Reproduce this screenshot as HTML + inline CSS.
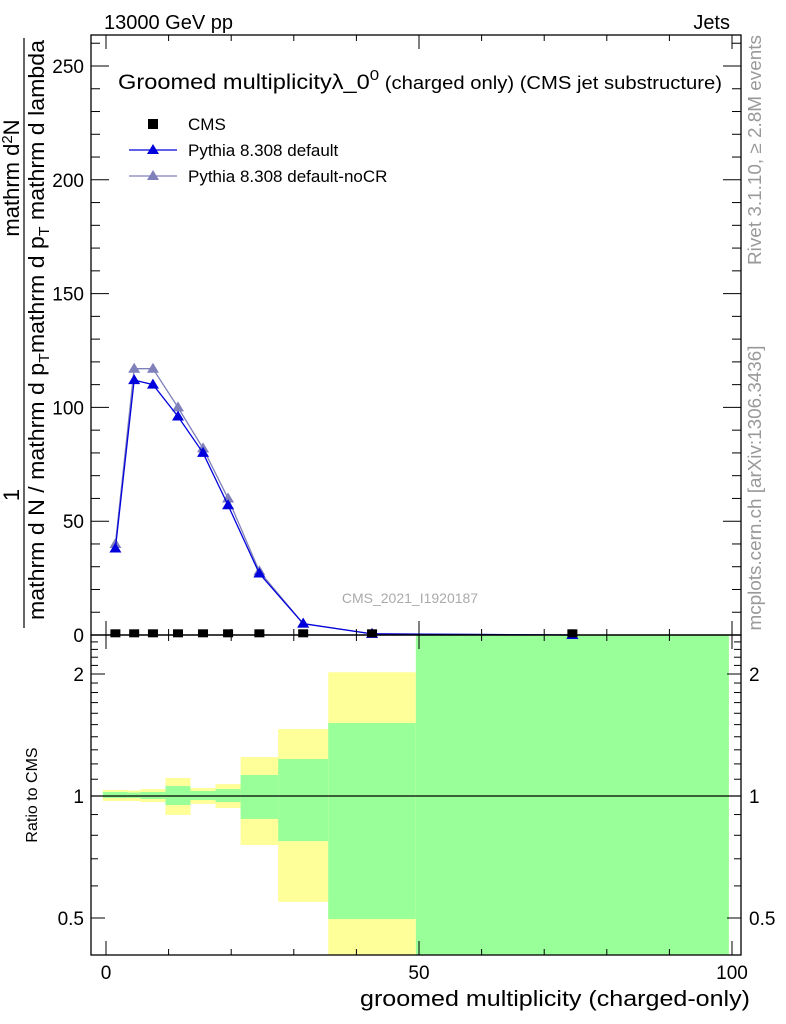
<!DOCTYPE html>
<html><head><meta charset="utf-8"><style>
body{margin:0;background:#fff}
svg{display:block;font-family:"Liberation Sans",sans-serif}
</style></head><body>
<svg id="c" width="786" height="1024" viewBox="0 0 786 1024" xmlns="http://www.w3.org/2000/svg">
<text x="104" y="29" font-size="20">13000 GeV pp</text>
<text x="730" y="29" font-size="20" text-anchor="end">Jets</text>
<text x="118" y="89" font-size="21" textLength="604" lengthAdjust="spacingAndGlyphs">Groomed multiplicityλ_0<tspan dy="-9" font-size="15">0</tspan><tspan dy="9" font-size="18"> (charged only) (CMS jet substructure)</tspan></text>
<text x="410" y="603" font-size="14" fill="#aaa" text-anchor="middle">CMS_2021_I1920187</text>
<g>
<rect x="148" y="119" width="10" height="10" fill="#000"/>
<text x="188" y="130" font-size="17">CMS</text>
<line x1="129" y1="150" x2="177" y2="150" stroke="#0000dd" stroke-width="1.3"/>
<polygon points="153,144 147,154 159,154" fill="#0000dd"/>
<text x="188" y="156" font-size="17">Pythia 8.308 default</text>
<line x1="129" y1="176" x2="177" y2="176" stroke="#8080bb" stroke-width="1.3"/>
<polygon points="153,170 147,180 159,180" fill="#8080bb"/>
<text x="188" y="182" font-size="17">Pythia 8.308 default-noCR</text>
</g>
<text transform="translate(761,150) rotate(-90)" font-size="18" fill="#999" text-anchor="middle" textLength="230" lengthAdjust="spacingAndGlyphs">Rivet 3.1.10, ≥ 2.8M events</text>
<text transform="translate(761,488) rotate(-90)" font-size="18" fill="#999" text-anchor="middle" textLength="285" lengthAdjust="spacingAndGlyphs">mcplots.cern.ch [arXiv:1306.3436]</text>
<g font-size="22">
<text transform="translate(19,495) rotate(-90)" text-anchor="middle">1</text>
<line x1="24" y1="628" x2="24" y2="38" stroke="#000" stroke-width="1.2"/>
<text transform="translate(44,330) rotate(-90)" text-anchor="middle" textLength="580" lengthAdjust="spacingAndGlyphs">mathrm d N / mathrm d p<tspan font-size="15" dy="5">T</tspan><tspan dy="-5">mathrm d p</tspan><tspan font-size="15" dy="5">T</tspan><tspan dy="-5"> mathrm d lambda</tspan></text>
<text transform="translate(19,178) rotate(-90)" text-anchor="middle">mathrm d<tspan font-size="15" dy="-7">2</tspan><tspan dy="7">N</tspan></text>
</g>
<text transform="translate(37,795) rotate(-90)" font-size="16" text-anchor="middle">Ratio to CMS</text>
<text x="750" y="1006" font-size="22" text-anchor="end" textLength="390" lengthAdjust="spacingAndGlyphs">groomed multiplicity (charged-only)</text>
<g id="g"></g>
</svg>
<script>
const centers=[1.5,4.5,7.5,11.5,15.5,19.5,24.5,31.5,42.5,74.5];
const edges=[-0.5,3.5,5.5,9.5,13.5,17.5,21.5,27.5,35.5,49.5,99.5];
const cmsVals=[0.3,0.3,0.3,0.3,0.3,0.3,0.3,0.3,0.3,0.3];
const pyDefault=[38,112,110,96,80,57,27,5,0.5,0];
const pyNoCR=[40,117,117,100,82,60,28,5,0.5,0];
const yelLo=[0.972,0.972,0.966,0.898,0.956,0.934,0.757,0.548,0.3,0.3];
const yelHi=[1.035,1.032,1.04,1.108,1.046,1.07,1.248,1.463,2.02,3];
const grnLo=[0.989,0.989,0.983,0.95,0.978,0.966,0.878,0.774,0.497,0.3];
const grnHi=[1.023,1.02,1.023,1.058,1.029,1.04,1.127,1.234,1.514,3];
const xTicks=[0,50,100];
const yTicks=[0,50,100,150,200,250];
const rTicks=[0.5,1,2];
const NS='http://www.w3.org/2000/svg';
const g=document.getElementById('g');
const L=91,R=741,T=35,M=635,B=955;
const X=v=>106+(v)*6.26;
const Y=v=>M-v*2.276;
const RY=v=>Math.max(T+600,Math.min(B,796-Math.log10(v)*405.3));
function el(t,a,p){const e=document.createElementNS(NS,t);for(const k in a)e.setAttribute(k,a[k]);(p||g).appendChild(e);return e;}
for(let i=0;i<centers.length;i++){
 const x1=X(edges[i]),x2=X(edges[i+1]);
 const y=el('rect',{x:x1,y:RY(yelHi[i]),width:x2-x1,height:RY(yelLo[i])-RY(yelHi[i]),fill:'#ffff99'});
 
 
 const gr=el('rect',{x:x1,y:RY(grnHi[i]),width:x2-x1,height:RY(grnLo[i])-RY(grnHi[i]),fill:'#99ff99'});
 
 
}
const one=el('line',{x1:L,x2:R,y1:RY(1),y2:RY(1),stroke:'#000','stroke-width':1.3});


function series(vals,col,name){
 const pts=centers.map((c,i)=>X(c)+','+Y(vals[i])).join(' ');
 const pl=el('polyline',{points:pts,fill:'none',stroke:col,'stroke-width':1.3});
 
 
 centers.forEach((c,i)=>{const x=X(c),y=Y(vals[i]);
  const p=el('polygon',{points:`${x},${y-6} ${x-6},${y+4} ${x+6},${y+4}`,fill:col});
  
  });
}
series(pyNoCR,'#8080bb','pythia-nocr');
series(pyDefault,'#0000dd','pythia-default');
centers.forEach((c,i)=>{
 const r=el('rect',{x:X(c)-5,y:Y(cmsVals[i])-5,width:10,height:8,fill:'#000'});
 
 });
[[T,M],[M,B]].forEach(([a,b])=>{const f=el('rect',{x:L,y:a,width:R-L,height:b-a,fill:'none',stroke:'#000','stroke-width':1.3});
 
 });
for(let v=0;v<=100;v+=10){const big=v%50===0,len=big?14:6;const x=X(v);
 [T,M].forEach(yy=>{el('line',{x1:x,x2:x,y1:yy,y2:yy+len,stroke:'#000'});});
 [M,B].forEach(yy=>{el('line',{x1:x,x2:x,y1:yy,y2:yy-len,stroke:'#000'});});}
xTicks.forEach(v=>{const t=el('text',{x:X(v),y:979,'font-size':19,'text-anchor':'middle'});t.textContent=v;
 
 });
for(let v=0;v<=260;v+=10){const big=v%50===0,len=big?18:9,y=Y(v);
 el('line',{x1:L,x2:L+len,y1:y,y2:y,stroke:'#000'});el('line',{x1:R,x2:R-len,y1:y,y2:y,stroke:'#000'});}
yTicks.forEach(v=>{const t=el('text',{x:84,y:Y(v)+7,'font-size':19,'text-anchor':'end'});t.textContent=v;
 
 });
const minor=[0.5,0.6,0.7,0.8,0.9,1,1.1,1.2,1.3,1.4,1.5,1.6,1.7,1.8,1.9,2,2.1,2.2,2.3,2.4];
minor.forEach(v=>{const big=rTicks.includes(v),len=big?14:7,y=RY(v);
 el('line',{x1:L,x2:L+len,y1:y,y2:y,stroke:'#000'});el('line',{x1:R,x2:R-len,y1:y,y2:y,stroke:'#000'});});
rTicks.forEach(v=>{const y=RY(v)+7;
 const t=el('text',{x:84,y:y,'font-size':19,'text-anchor':'end'});t.textContent=v;
 
 
 const t2=el('text',{x:749,y:y,'font-size':19});t2.textContent=v;
 
 });
</script>
</body></html>
